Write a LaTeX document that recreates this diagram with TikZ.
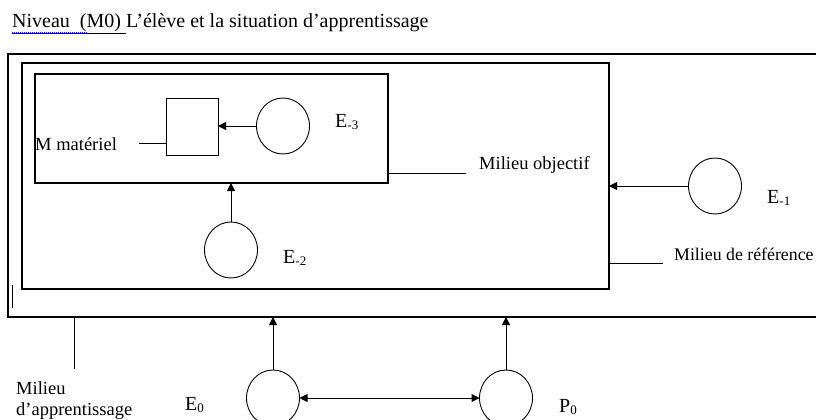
\documentclass[tikz,border=0pt]{standalone}
\usepackage{fontspec}
\setmainfont{Liberation Serif}
\usetikzlibrary{arrows.meta,shapes.geometric}
\newcommand{\Elab}[2]{#1\raisebox{-0.12em}{\fontsize{13}{13}\selectfont #2}}
\begin{document}
\begin{tikzpicture}[x=1pt,y=-1pt,
  box/.style={draw, line width=1.1pt, rectangle, inner sep=0pt, outer sep=0pt, anchor=north west},
  circ/.style={draw, ellipse, line width=0.9pt, minimum width=53pt, minimum height=56pt, inner sep=0pt, outer sep=0pt},
  conn/.style={line width=1pt},
  tip/.tip={Triangle[length=8pt,width=8pt]},
  arr/.style={conn, -tip},
  lbl/.style={anchor=base west, inner sep=0pt, font=\fontsize{18.5}{22}\selectfont},
  elbl/.style={anchor=base west, inner sep=0pt, font=\fontsize{20}{22}\selectfont},
  ttl/.style={anchor=base west, inner sep=0pt, font=\fontsize{20}{22}\selectfont}
]
\useasboundingbox (0,0) rectangle (816,420);
\clip (0,0) rectangle (816,420);

% title
\node[ttl] (title) at (12,28) {\underline{Niveau\ \ (M0)\ }L’élève et la situation d’apprentissage};
\draw[blue, line width=1pt, densely dotted] (12,33) -- (88,33);

% boxes
\node[box, minimum width=812pt, minimum height=263pt] (outer) at (8,54) {};
\node[box, minimum width=587pt, minimum height=226pt] (mid) at (22,63) {};
\node[box, minimum width=353pt, minimum height=109pt] (inner) at (35,74) {};
\node[box, line width=1pt, minimum width=52pt, minimum height=57pt] (sq) at (166,98) {};

% circles
\node[circ] (E3) at (283,126) {};
\node[circ] (E2) at (231,250) {};
\node[circ] (E1) at (715,186) {};
\node[circ] (E0) at (273,398) {};
\node[circ] (P0) at (506,398) {};

% labels
\node[elbl] (lE3) at (335,127) {\Elab{E}{-3}};
\node[elbl] (lE2) at (283,263) {\Elab{E}{-2}};
\node[elbl] (lE1) at (767,203) {\Elab{E}{-1}};
\node[elbl] (lE0) at (185,410) {\Elab{E}{0}};
\node[elbl] (lP0) at (559,412) {\Elab{P}{0}};
\node[lbl] (lmm) at (35,150) {M matériel};
\node[lbl] (lobj) at (479,169) {Milieu objectif};
\node[lbl, font=\fontsize{17.8}{22}\selectfont] (lref) at (674,260) {Milieu de référence};
\node[lbl] (lap1) at (16,394) {Milieu};
\node[lbl] (lap2) at (16,415) {d’apprentissage};

% label leader lines
\coordinate (cm) at (139,143);
\draw[conn] (cm) -- (cm -| sq.west);
\coordinate (co) at (466,173);
\draw[conn] (co -| inner.east) -- (co);
\coordinate (cr) at (663,263);
\draw[conn] (cr -| mid.east) -- (cr);
\coordinate (ca) at (74,369);
\draw[conn] (ca |- outer.south) -- (ca);
\coordinate (s1) at (12,285);
\coordinate (s2) at (12,308);
\draw[conn] (s1) -- (s2);

% arrows
\draw[arr] (E3.west) -- (E3.west -| sq.east);
\draw[arr] (E2.north) -- (E2.north |- inner.south);
\draw[arr] (E1.west) -- (E1.west -| mid.east);
\draw[arr] (E0.north) -- (E0.north |- outer.south);
\draw[arr] (P0.north) -- (P0.north |- outer.south);
\draw[conn, tip-tip] (E0.east) -- (P0.west);
\end{tikzpicture}
\end{document}
